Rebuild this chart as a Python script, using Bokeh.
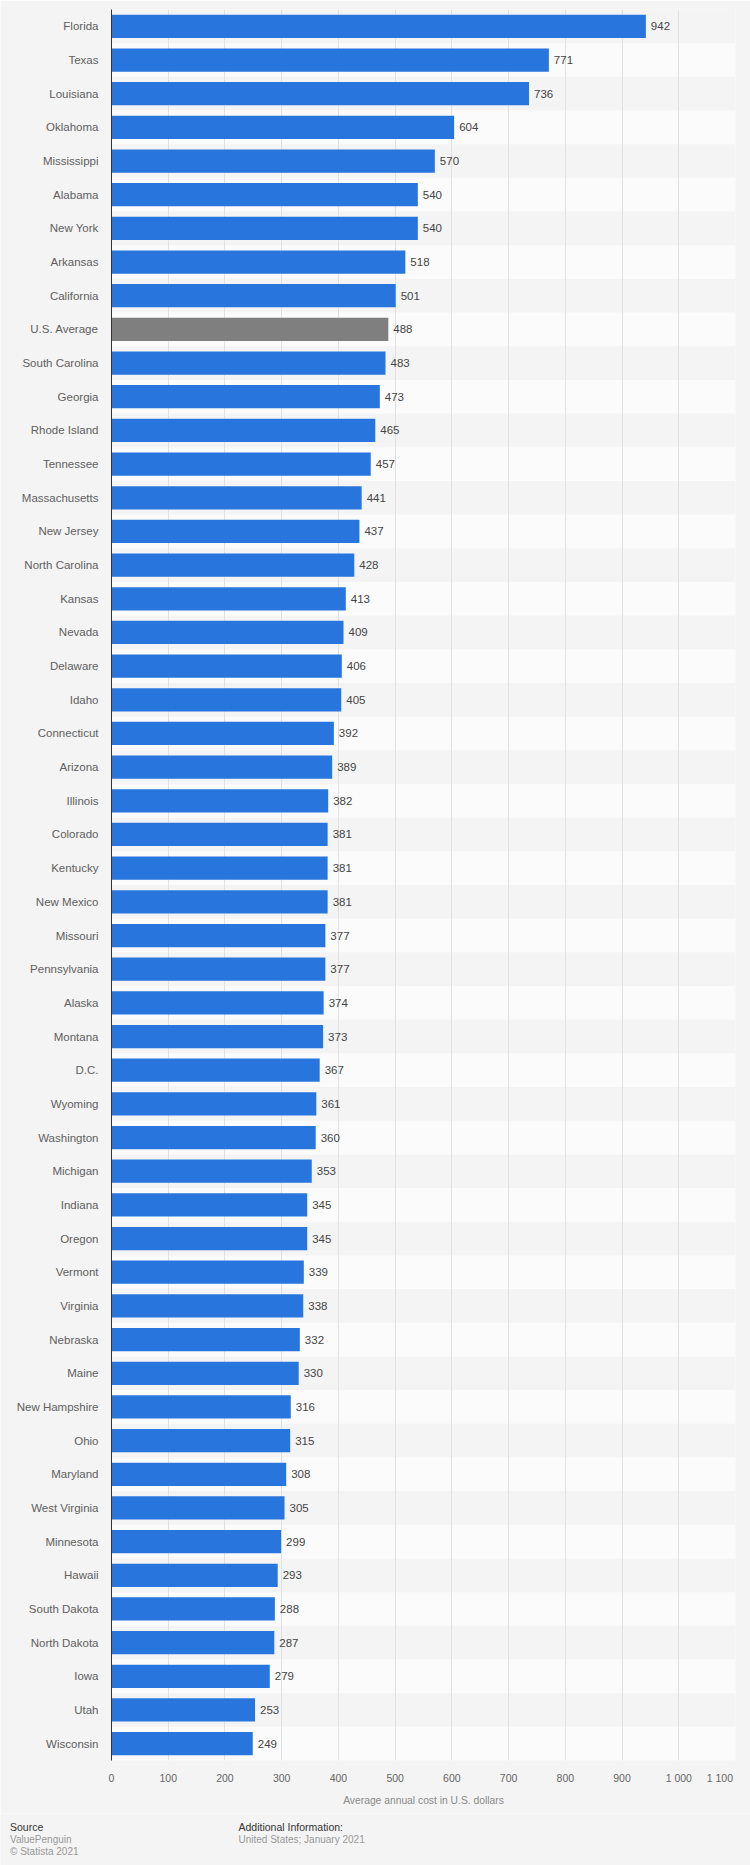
from bokeh.plotting import figure
from bokeh.models import FactorRange, Range1d, FixedTicker, ColumnDataSource
from bokeh.layouts import column
from bokeh.core.properties import value
from bokeh.embed import file_html
from bokeh.resources import INLINE

states = ["Florida", "Texas", "Louisiana", "Oklahoma", "Mississippi", "Alabama", "New York",
          "Arkansas", "California", "U.S. Average", "South Carolina", "Georgia", "Rhode Island",
          "Tennessee", "Massachusetts", "New Jersey", "North Carolina", "Kansas", "Nevada",
          "Delaware", "Idaho", "Connecticut", "Arizona", "Illinois", "Colorado", "Kentucky",
          "New Mexico", "Missouri", "Pennsylvania", "Alaska", "Montana", "D.C.", "Wyoming",
          "Washington", "Michigan", "Indiana", "Oregon", "Vermont", "Virginia", "Nebraska",
          "Maine", "New Hampshire", "Ohio", "Maryland", "West Virginia", "Minnesota", "Hawaii",
          "South Dakota", "North Dakota", "Iowa", "Utah", "Wisconsin"]
costs = [942, 771, 736, 604, 570, 540, 540, 518, 501, 488, 483, 473, 465, 457, 441, 437, 428,
         413, 409, 406, 405, 392, 389, 382, 381, 381, 381, 377, 377, 374, 373, 367, 361, 360,
         353, 345, 345, 339, 338, 332, 330, 316, 315, 308, 305, 299, 293, 288, 287, 279, 253, 249]
x_ticks = [0, 100, 200, 300, 400, 500, 600, 700, 800, 900, 1000, 1100]
x_tick_labels = ["0", "100", "200", "300", "400", "500", "600", "700", "800", "900", "1 000", "1 100"]
axis_title = "Average annual cost in U.S. dollars"
source_title = "Source"
source_lines = ["ValuePenguin", "© Statista 2021"]
info_title = "Additional Information:"
info_lines = ["United States; January 2021"]

FONT = "Liberation Sans"
BG = "#f4f4f4"
BLUE = "#2876dd"
GREY = "#7f7f7f"

colors = [GREY if s == "U.S. Average" else BLUE for s in states]
src = ColumnDataSource(dict(state=states, cost=costs, color=colors,
                            label=[str(c) for c in costs]))
band_states = states[1::2]
band_src = ColumnDataSource(dict(state=band_states,
                                 left=[x_ticks[0]] * len(band_states),
                                 right=[x_ticks[-1]] * len(band_states)))

p = figure(width=750, height=1813, output_backend="svg", toolbar_location=None,
           y_range=FactorRange(factors=list(reversed(states))),
           x_range=Range1d(x_ticks[0], x_ticks[-1]),
           min_border_left=111, min_border_right=15, min_border_top=9, min_border_bottom=53)
p.background_fill_color = BG
p.border_fill_color = BG
p.outline_line_color = None
p.frame_align = False

bands = p.hbar(y="state", left="left", right="right", height=1.0, source=band_src,
               fill_color="#fbfbfb", line_color=None)
bands.level = "image"

p.hbar(y="state", right="cost", left=0, height=0.69, source=src,
       fill_color="color", line_color=None)
p.text(x="cost", y="state", text="label", source=src, x_offset=5,
       text_baseline="middle", text_align="left", text_font=value(FONT),
       text_font_size="11.5px", text_color="#444444")

p.ygrid.grid_line_color = None
p.xgrid.ticker = FixedTicker(ticks=x_ticks)
p.xgrid.grid_line_color = "#e1e1e1"
p.xgrid.grid_line_width = 1

xa = p.xaxis[0]
xa.ticker = FixedTicker(ticks=x_ticks)
overrides = {t: l for t, l in zip(x_ticks, x_tick_labels)}
# the last label sits right-aligned to its grid line: pad it with no-break spaces
overrides[x_ticks[-1]] = x_tick_labels[-1] + "\u00a0" * 6
xa.major_label_overrides = overrides
xa.axis_line_color = None
xa.major_tick_line_color = None
xa.minor_tick_line_color = None
xa.major_tick_out = 0
xa.major_label_standoff = 11
xa.major_label_text_font = FONT
xa.major_label_text_font_size = "10.5px"
xa.major_label_text_color = "#666666"
xa.axis_label = axis_title
xa.axis_label_text_font = FONT
xa.axis_label_text_font_size = "10.3px"
xa.axis_label_text_font_style = "normal"
xa.axis_label_text_color = "#8a8a8a"
xa.axis_label_standoff = 8

ya = p.yaxis[0]
ya.axis_line_color = "#333333"
ya.axis_line_width = 1
ya.major_tick_line_color = None
ya.minor_tick_line_color = None
ya.major_tick_out = 0
ya.major_label_standoff = 13
ya.major_label_text_font = FONT
ya.major_label_text_font_size = "11.5px"
ya.major_label_text_color = "#606060"

# footer
FH = 52
f = figure(width=750, height=FH, output_backend="svg", toolbar_location=None,
           x_range=Range1d(0, 750), y_range=Range1d(FH, 0),
           min_border=0, x_axis_type=None, y_axis_type=None)
f.background_fill_color = BG
f.border_fill_color = BG
f.outline_line_color = None
f.grid.grid_line_color = None
f.frame_align = False

f.text(x=[9.5], y=[13], text=[source_title], text_font=value(FONT), text_font_size="10.5px",
       text_color="#333333", text_baseline="middle")
f.text(x=[9.5] * len(source_lines), y=[25.5, 38], text=source_lines, text_font=value(FONT),
       text_font_size="10px", text_color="#999999", text_baseline="middle")
f.text(x=[238], y=[13], text=[info_title], text_font=value(FONT), text_font_size="10.5px",
       text_color="#333333", text_baseline="middle")
f.text(x=[238] * len(info_lines), y=[25.5], text=info_lines, text_font=value(FONT),
       text_font_size="10px", text_color="#999999", text_baseline="middle")

layout = column(p, f, spacing=0)
open("out.html", "w").write(file_html(layout, INLINE))
